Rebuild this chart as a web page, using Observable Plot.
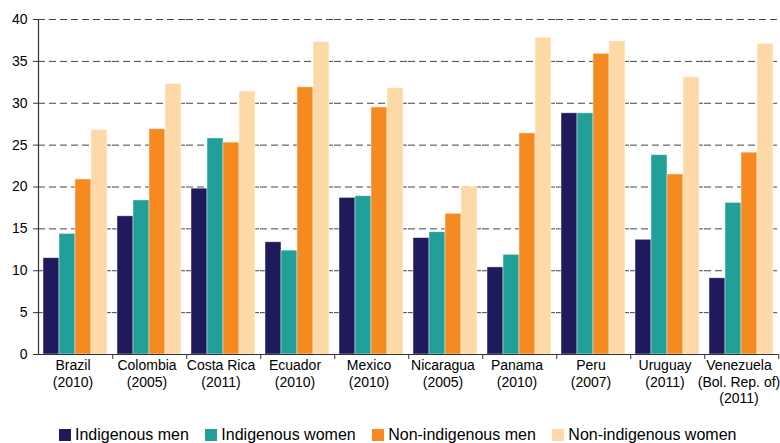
<!DOCTYPE html>
<html>
<head>
<meta charset="utf-8">
<script src="https://cdn.jsdelivr.net/npm/d3@7"></script>
<script src="https://cdn.jsdelivr.net/npm/@observablehq/plot@0.6"></script>
<style>
  html, body { margin: 0; padding: 0; background: #fff; }
  body { width: 780px; height: 443px; overflow: hidden; position: relative; font-family: "Liberation Sans", Arial, sans-serif; }
  #title { position: absolute; left: 0; width: 780px; top: -17px; text-align: center; font-size: 20px; line-height: 20px; color: #000; }
  #title span { position: relative; left: -1px; }
  #chart { position: absolute; left: 0; top: 0; }
  #legend { position: absolute; left: 59px; top: 426px; height: 18px; line-height: 18px; font-size: 16px; color: #000; white-space: nowrap; }
  #legend .item { display: inline-block; margin-right: 16.5px; }
  #legend .sw { display: inline-block; width: 12px; height: 12px; margin-right: 4px; vertical-align: -1px; }
</style>
</head>
<body>
<div id="title"><span>(Percentages)</span></div>
<div id="chart"></div>
<div id="legend"></div>
<script>
const countries = ["Brazil\n(2010)", "Colombia\n(2005)", "Costa Rica\n(2011)", "Ecuador\n(2010)", "Mexico\n(2010)", "Nicaragua\n(2005)", "Panama\n(2010)", "Peru\n(2007)", "Uruguay\n(2011)", "Venezuela\n(Bol. Rep. of)\n(2011)"];
const series = ["Indigenous men", "Indigenous women", "Non-indigenous men", "Non-indigenous women"];
const colors = ["#1f1a5c", "#21a09a", "#f48a20", "#fdd9a8"];
const indigenousMen      = [11.5, 16.5, 19.8, 13.4, 18.7, 13.9, 10.4, 28.8, 13.7, 9.1];
const indigenousWomen    = [14.4, 18.4, 25.8, 12.4, 18.9, 14.6, 11.9, 28.8, 23.8, 18.1];
const nonIndigenousMen   = [20.9, 26.9, 25.3, 31.9, 29.5, 16.8, 26.4, 35.9, 21.5, 24.1];
const nonIndigenousWomen = [26.8, 32.3, 31.4, 37.3, 31.8, 20.0, 37.8, 37.4, 33.1, 37.1];
const yTicks = [0, 5, 10, 15, 20, 25, 30, 35, 40];

const seriesValues = [indigenousMen, indigenousWomen, nonIndigenousMen, nonIndigenousWomen];
const data = [];
countries.forEach((c, i) => series.forEach((s, j) => data.push({country: c, series: s, value: seriesValues[j][i]})));

const W = 780, H = 423, ML = 35, MR = 0, MT = 19, MB = 69;
const halfStep = (W - ML - MR) / countries.length / 2;

const chart = Plot.plot({
  width: W, height: H,
  marginLeft: ML, marginRight: MR, marginTop: MT, marginBottom: MB,
  style: {fontFamily: '"Liberation Sans", Arial, sans-serif', fontSize: "14px", color: "#000", background: "#fff"},
  fx: {domain: countries, padding: 0, label: null},
  x: {domain: series, paddingInner: 0, paddingOuter: 0.19, axis: null},
  y: {domain: [0, 40], label: null},
  color: {domain: series, range: colors},
  marks: [
    Plot.gridY(yTicks.filter(t => t > 0), {stroke: "#444", strokeOpacity: 1, strokeWidth: 1, strokeDasharray: "7,4"}),
    Plot.barY(data, {fx: "country", x: "series", y: "value", fill: "series", stroke: "#fff", strokeOpacity: 0.55, strokeWidth: 0.8}),
    Plot.ruleY([0], {stroke: "#333", strokeWidth: 1.2}),
    Plot.frame({anchor: "left", facetAnchor: "left", stroke: "#333", strokeWidth: 1.2}),
    Plot.axisY({ticks: yTicks, tickSize: 5, tickPadding: 6, stroke: "#333", fill: "#000", fontSize: 14}),
    Plot.axisFx({anchor: "bottom", tickSize: 0, tickPadding: 4, lineHeight: 1.18, fontSize: 14, fill: "#000", dx: -2.5, label: null}),
    Plot.axisFx({anchor: "bottom", tickSize: 5, tickFormat: () => "", dx: halfStep, stroke: "#333", label: null})
  ]
});
document.getElementById("chart").appendChild(chart);

const legend = document.getElementById("legend");
series.forEach((s, i) => {
  const item = document.createElement("span");
  item.className = "item";
  const sw = document.createElement("span");
  sw.className = "sw";
  sw.style.background = colors[i];
  item.appendChild(sw);
  item.appendChild(document.createTextNode(s));
  legend.appendChild(item);
});
</script>
</body>
</html>
